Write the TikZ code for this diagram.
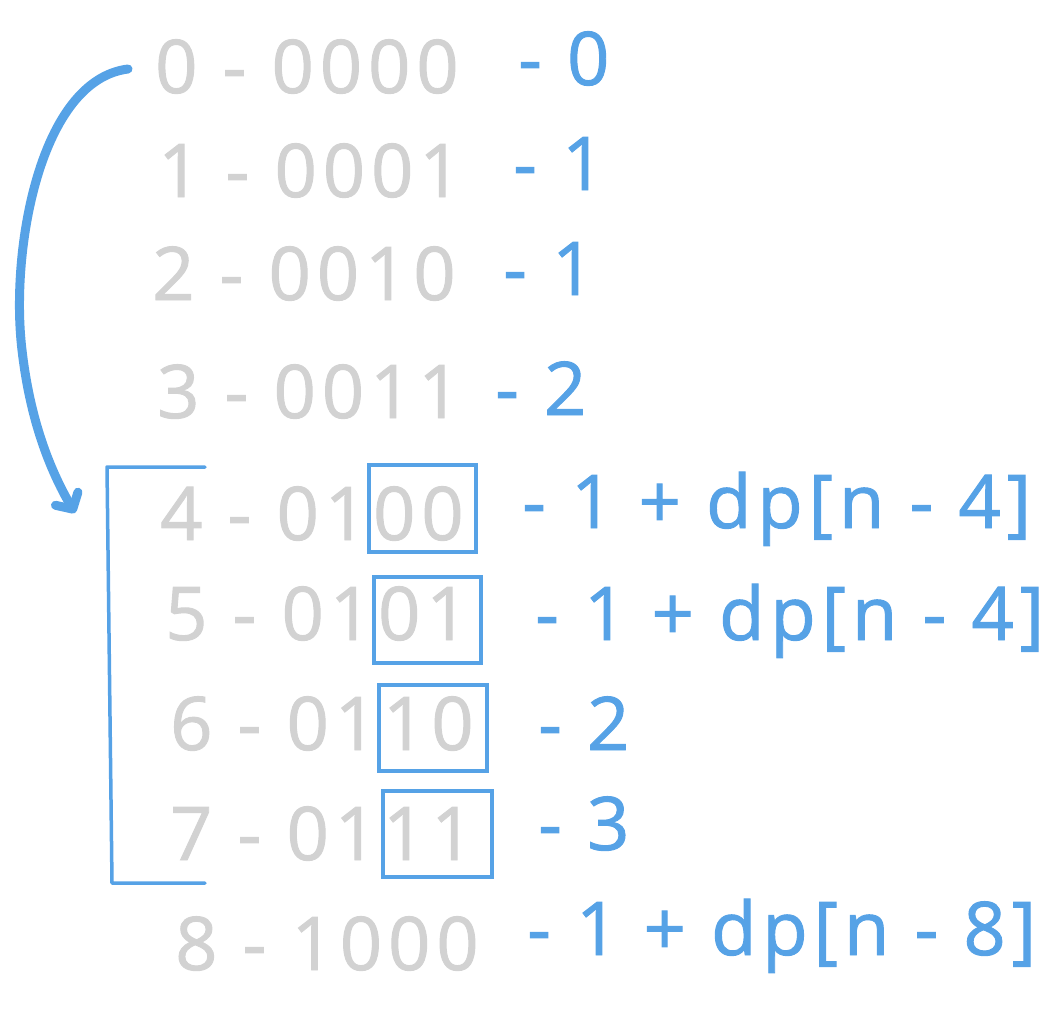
\documentclass[tikz,border=0pt]{standalone}
\usepackage{fontspec}
\setmainfont{Open Sans}[LetterSpace=8,FakeBold=1.3]
\usetikzlibrary{arrows.meta}
\definecolor{gtext}{HTML}{D2D2D2}
\definecolor{bl}{HTML}{56A2E6}
\begin{document}
\begin{tikzpicture}[x=1pt,y=-1pt,
  gray/.style={anchor=base west,inner sep=0pt,text=gtext,font=\fontsize{74}{80}\selectfont},
  val/.style={anchor=base west,inner sep=0pt,text=bl,font=\fontsize{74}{80}\selectfont},
  hl/.style={draw=bl,line width=3.5pt,inner sep=0pt},
  brk/.style={draw=bl,line width=3.5pt,line cap=round,line join=round}]
\useasboundingbox (0,0) rectangle (1059,1014);
% gray rows
\node[gray] (g0) at (155,93) {0 - 0000};
\node[gray] (g1) at (158,197) {1 - 0001};
\node[gray] (g2) at (152,300) {2 - 0010};
\node[gray] (g3) at (157,418) {3 - 0011};
\node[gray] (g4) at (160,540) {4 - 0100};
\node[gray] (g5) at (165,640) {5 - 0101};
\node[gray] (g6) at (170,750) {6 - 0110};
\node[gray] (g7) at (170,860) {7 - 0111};
\node[gray] (g8) at (175,970) {8 - 1000};
% blue values
\node[val] (v0) at (518,85) {- 0};
\node[val] (v1) at (513,190) {- 1};
\node[val] (v2) at (503,295) {- 1};
\node[val] (v3) at (495,415) {- 2};
\node[val] (v4) at (522,528) {- 1 + dp[n - 4]};
\node[val] (v5) at (535,640) {- 1 + dp[n - 4]};
\node[val] (v6) at (538,750) {- 2};
\node[val] (v7) at (538,850) {- 3};
\node[val] (v8) at (527,955) {- 1 + dp[n - 8]};
% highlight boxes
\node[hl,minimum width=107pt,minimum height=87pt] (b4) at (422.5,508.5) {};
\node[hl,minimum width=107pt,minimum height=86pt] (b5) at (427.5,620) {};
\node[hl,minimum width=108pt,minimum height=86pt] (b6) at (433,728) {};
\node[hl,minimum width=109pt,minimum height=86pt] (b7) at (437.5,834) {};
% bracket
\coordinate (t1) at (205,467);
\coordinate (t2) at (107,467);
\coordinate (t3) at (112,883);
\coordinate (t4) at (205,883);
\draw[brk] (t1) -- (t2) -- (t3) -- (t4);
% arrow
\coordinate (as) at (128,69);
\coordinate (ae) at (75,513);
\draw[draw=bl,line width=9pt,line cap=round,line join=round,
  -{Straight Barb[length=12pt,width=26pt,line cap=round,line join=round]}]
  (as) .. controls (40,80) and (10,250) .. (22,350)
       .. controls (30,420) and (50,470) .. (ae);
\end{tikzpicture}
\end{document}
